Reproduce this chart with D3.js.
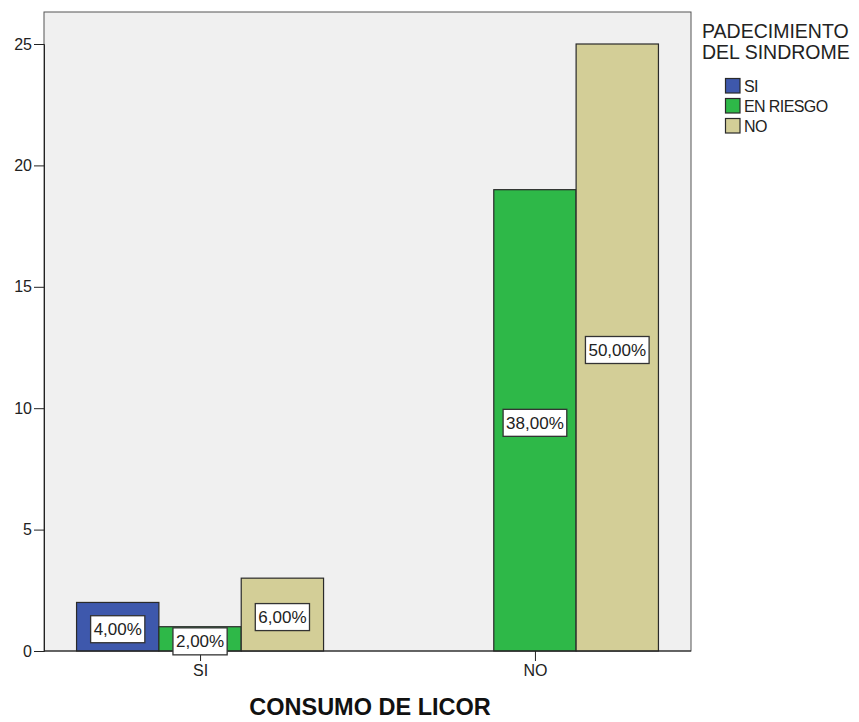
<!DOCTYPE html>
<html><head><meta charset="utf-8">
<script src="https://cdn.jsdelivr.net/npm/d3@7"></script>
<style>body{margin:0;background:#fff;} text{font-family:"Liberation Sans",Arial,sans-serif;}</style>
</head><body><svg id="c" width="859" height="722"></svg>
<script>
const groups = ["SI", "NO"];
const series = ["SI", "EN RIESGO", "NO"];
const colors = ["#3E58AC", "#2EB848", "#D3CE97"];
const valuesSI = [2, 1, 3];
const valuesNO = [0, 19, 25];
const pctSI = ["4,00%", "2,00%", "6,00%"];
const pctNO = [null, "38,00%", "50,00%"];
const yTicks = [0, 5, 10, 15, 20, 25];
const legendTitle = ["PADECIMIENTO", "DEL SINDROME"];
const xTitle = "CONSUMO DE LICOR";

const svg = d3.select("#c");
const L = 44, R = 691, T = 12, B = 651;
const y = d3.scaleLinear().domain([0, 25]).range([B, 44]);
const x = d3.scalePoint().domain(groups).range([L, R]).padding(0.466);
const sub = d3.scaleBand().domain(series).range([-123.5, 123.5]);

svg.append("rect").attr("x", L).attr("y", T).attr("width", R - L).attr("height", B - T)
  .attr("fill", "#F0F0F0").attr("stroke", "#555").attr("stroke-width", 1);

const data = [];
groups.forEach((g, gi) => {
  const vals = gi === 0 ? valuesSI : valuesNO;
  const pcts = gi === 0 ? pctSI : pctNO;
  series.forEach((s, si) => {
    if (vals[si] > 0) data.push({g, s, si, v: vals[si], p: pcts[si]});
  });
});

svg.selectAll("rect.bar").data(data).enter().append("rect").attr("class", "bar")
  .attr("x", d => x(d.g) + sub(d.s))
  .attr("y", d => y(d.v))
  .attr("width", sub.bandwidth())
  .attr("height", d => y(0) - y(d.v))
  .attr("fill", d => colors[d.si])
  .attr("stroke", "#2a2a2a").attr("stroke-width", 1.2);

// axes
const yAxis = d3.axisLeft(y).tickValues(yTicks).tickSize(10).tickPadding(2);
const ga = svg.append("g").attr("transform", `translate(${L},0)`).call(yAxis);
ga.select(".domain").attr("stroke", "#222");
ga.selectAll("text").attr("font-size", 16).attr("fill", "#222").attr("font-family", "Liberation Sans, Arial, sans-serif");
ga.selectAll("line").attr("stroke", "#222");

const xAxis = d3.axisBottom(x).tickSize(10).tickPadding(4);
const gx = svg.append("g").attr("transform", `translate(0,${B})`).call(xAxis);
gx.select(".domain").remove();
gx.selectAll("text").attr("font-size", 16).attr("fill", "#222").attr("font-family", "Liberation Sans, Arial, sans-serif");
gx.selectAll("line").attr("stroke", "#222");

// redraw baseline
svg.append("line").attr("x1", L).attr("x2", R).attr("y1", B).attr("y2", B).attr("stroke", "#222");

// labels
const lab = svg.selectAll("g.lab").data(data).enter().append("g").attr("class", "lab")
  .attr("transform", d => `translate(${x(d.g) + sub(d.s) + sub.bandwidth() / 2},${(y(d.v) + y(0)) / 2 + 2.5})`);
lab.append("rect").attr("x", -28).attr("y", -13.5).attr("width", 56).attr("height", 27)
  .attr("fill", "#fff").attr("stroke", "#333").attr("stroke-width", 1.3);
lab.append("text").text(d => d.p).attr("text-anchor", "middle").attr("dy", "0.36em")
  .attr("font-size", 17).attr("fill", "#222");
lab.each(function() {
  const t = d3.select(this).select("text").node().getBBox();
  d3.select(this).select("rect").attr("x", t.x - 3).attr("width", t.width + 6);
});

// x title
svg.append("text").attr("x", 370).attr("y", 715).attr("text-anchor", "middle")
  .attr("font-size", 23.5).attr("font-weight", "bold").attr("fill", "#111").text(xTitle);

// legend
legendTitle.forEach((t, i) => {
  svg.append("text").attr("x", 702).attr("y", 38 + i * 21).attr("font-size", 19.5).attr("fill", "#222").text(t);
});
series.forEach((s, i) => {
  const yy = 78.5 + i * 20;
  svg.append("rect").attr("x", 725.5).attr("y", yy).attr("width", 14.5).attr("height", 14.5)
    .attr("fill", colors[i]).attr("stroke", "#2a2a2a").attr("stroke-width", 1.2);
  svg.append("text").attr("x", 744).attr("y", yy + 13).attr("font-size", 16).attr("fill", "#222")
    .attr("letter-spacing", "-0.6").text(s);
});
</script></body></html>
